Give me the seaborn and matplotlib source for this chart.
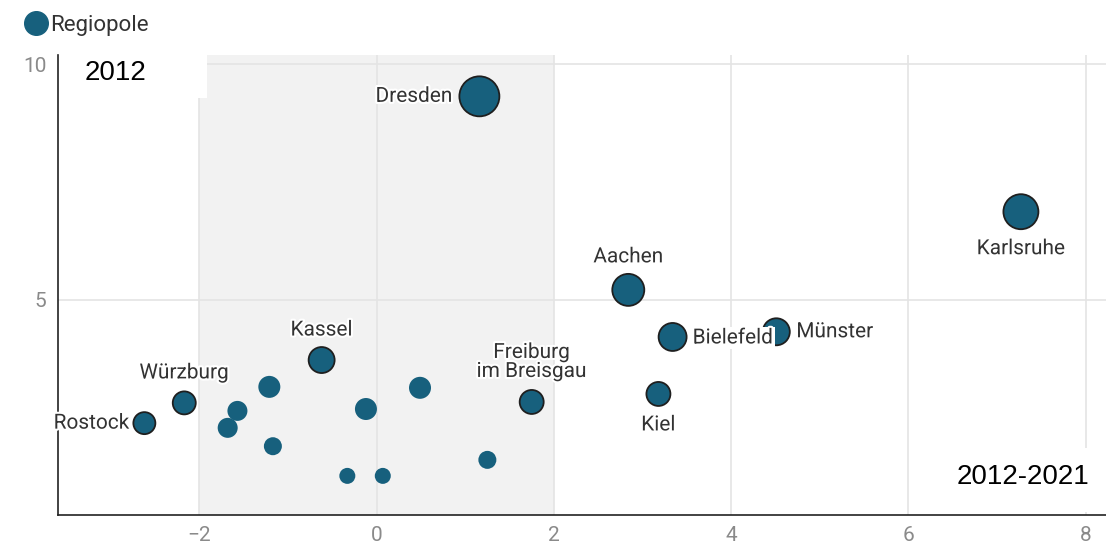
import matplotlib
matplotlib.use("Agg")
import matplotlib.pyplot as plt
import matplotlib.patheffects as pe
from matplotlib.lines import Line2D
from matplotlib.patches import Rectangle
import seaborn as sns
import pandas as pd

# ---- data ----
cities = ["Rostock", "Würzburg", "Kassel", "Dresden", "Aachen", "Bielefeld",
          "Münster", "Kiel", "Freiburg\nim Breisgau", "Karlsruhe",
          "", "", "", "", "", "", "", "", ""]
x_change = [-2.62, -2.17, -0.62, 1.16, 2.84, 3.34, 4.51, 3.18, 1.75, 7.27,
            -1.21, -1.57, -1.68, -1.17, -0.12, 0.49, -0.33, 0.07, 1.25]
y_2012 = [2.38, 2.81, 3.72, 9.32, 5.21, 4.21, 4.32, 3.00, 2.83, 6.87,
          3.15, 2.64, 2.28, 1.89, 2.68, 3.13, 1.26, 1.26, 1.60]
radius_px = [11, 11.5, 13, 20, 16, 14, 13.5, 12, 12, 17.5,
             11, 10, 10, 9, 11, 11, 8, 8, 9]
label_offsets = {  # (dx px, dy px, ha, va)
    "Rostock": (-15, 0, "right", "center"),
    "Würzburg": (0, 30, "center", "center"),
    "Kassel": (0, 30, "center", "center"),
    "Dresden": (-27, 0, "right", "center"),
    "Aachen": (0, 33, "center", "center"),
    "Bielefeld": (20, -1, "left", "center"),
    "Münster": (20, 0, "left", "center"),
    "Kiel": (0, -31, "center", "center"),
    "Freiburg\nim Breisgau": (0, 40, "center", "center"),
    "Karlsruhe": (0, -37, "center", "center"),
}
legend_label = "Regiopole"
x_ticks = [-2, 0, 2, 4, 6, 8]
y_ticks = [5, 10]

df = pd.DataFrame({"city": cities, "x": x_change, "y": y_2012, "r": radius_px})
df["s"] = (2 * df["r"] * 0.72) ** 2
df["labeled"] = df["city"] != ""

COLOR = "#17607d"

sns.set_theme(style="white")
plt.rcParams["font.family"] = ["Roboto", "DejaVu Sans"]

fig = plt.figure(figsize=(11.06, 5.49), dpi=100)
ax = fig.add_axes([0.052, 0.062, 0.948, 0.838])

ax.set_xlim(-3.6, 8.23)
ax.set_ylim(0.43, 10.2)

ax.axvspan(-2, 2, color="#f2f2f2", zorder=0, lw=0)
for xt in x_ticks:
    ax.axvline(xt, color="#e4e4e4", lw=1.2, zorder=0.5)
for yt in y_ticks:
    ax.axhline(yt, color="#e4e4e4", lw=1.2, zorder=0.5)

# white boxes behind the corner labels
ax.add_patch(Rectangle((0.0, 0.907), 0.143, 0.093, transform=ax.transAxes,
                       facecolor="white", edgecolor="none", zorder=1))
ax.add_patch(Rectangle((0.815, 0.006), 0.17, 0.14, transform=ax.transAxes,
                       facecolor="white", edgecolor="none", zorder=1))

unl = df[~df["labeled"]]
lab = df[df["labeled"]]
sns.scatterplot(data=unl, x="x", y="y", s=unl["s"].values, color=COLOR,
                edgecolor="none", linewidth=0, ax=ax, zorder=3, legend=False)
sns.scatterplot(data=lab, x="x", y="y", s=lab["s"].values, color=COLOR,
                edgecolor="#1f1f1f", linewidth=1.3, ax=ax, zorder=4, legend=False)

halo = [pe.withStroke(linewidth=3, foreground="white")]
for _, row in lab.iterrows():
    dx, dy, ha, va = label_offsets[row["city"]]
    kw = {}
    if row["city"] == "Bielefeld":
        kw["bbox"] = dict(facecolor="white", edgecolor="none", pad=1)
    ax.annotate(row["city"], (row["x"], row["y"]), xytext=(dx, dy),
                textcoords="offset pixels", ha=ha, va=va, fontsize=15,
                color="#333333", zorder=6, path_effects=halo,
                multialignment="center", linespacing=1.0, **kw)

ax.set_xticks(x_ticks)
ax.set_yticks(y_ticks)
ax.tick_params(axis="both", colors="#8a8a8a", labelsize=15, length=0, pad=8)
ax.set_xlabel("")
ax.set_ylabel("")
for sp in ["top", "right"]:
    ax.spines[sp].set_visible(False)
for sp in ["left", "bottom"]:
    ax.spines[sp].set_color("#222222")
    ax.spines[sp].set_linewidth(1.2)

ax.text(0.026, 0.961, "2012", transform=ax.transAxes, fontsize=20,
        family=["Liberation Sans", "DejaVu Sans"], color="black",
        ha="left", va="center", zorder=7)
ax.text(0.984, 0.083, "2012-2021", transform=ax.transAxes, fontsize=20,
        family=["Liberation Sans", "DejaVu Sans"], color="black",
        ha="right", va="center", zorder=7)

handle = Line2D([], [], marker="o", color="none", markerfacecolor=COLOR,
                markeredgecolor=COLOR, markersize=17)
fig.legend(handles=[handle], labels=[legend_label], loc="upper left",
           bbox_to_anchor=(0.002, 1.01), frameon=False, fontsize=16,
           handletextpad=0.05, handlelength=1.2,
           labelcolor="#333333")

fig.savefig("out.png", dpi=100)
